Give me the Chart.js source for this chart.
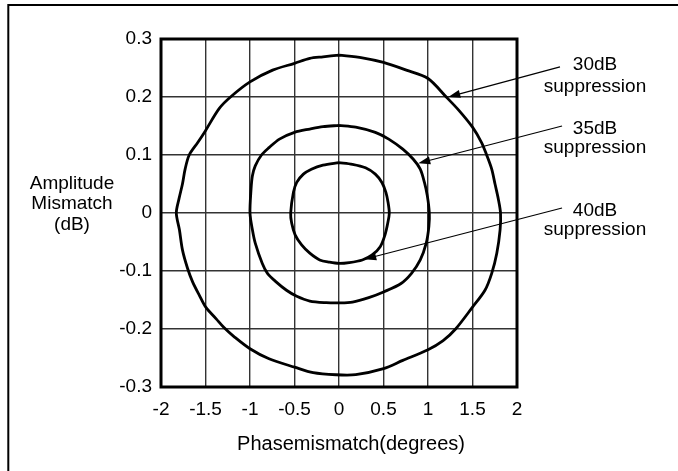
<!DOCTYPE html>
<html>
<head>
<meta charset="utf-8">
<script src="https://cdn.jsdelivr.net/npm/chart.js@4.4.1/dist/chart.umd.min.js"></script>
<style>
  html, body { margin: 0; padding: 0; background: #fff; }
  #wrap { width: 678px; height: 471px; }
</style>
</head>
<body>
<div id="wrap"><canvas id="myChart" width="678" height="471"></canvas></div>
<script>
// phase mismatch (deg) / amplitude mismatch (dB), going round each contour
var phase30 = [0, -0.18, -0.328, -0.5, -0.746, -1, -1.219, -1.347, -1.5, -1.587, -1.683, -1.729, -1.759, -1.798, -1.828,
  -1.793, -1.759, -1.702, -1.645, -1.569, -1.497, -1.38, -1.29, -1.18, -1, -0.786, -0.5, -0.29, -0.034,
  0.188, 0.5, 0.717, 1.0, 1.17, 1.31, 1.5, 1.64, 1.716, 1.773, 1.81, 1.815,
  1.79, 1.753, 1.716, 1.659, 1.602, 1.5, 1.347, 1.205, 1.0, 0.756, 0.5, 0.262, 0];
var ampl30 = [0.2723, 0.2693, 0.2666, 0.258, 0.2463, 0.226, 0.2, 0.18, 0.142, 0.1215, 0.1, 0.0756, 0.05, 0.0243, 0,
  -0.029, -0.0636, -0.0953, -0.1187, -0.1419, -0.1623, -0.1825, -0.198, -0.213, -0.234, -0.2514, -0.2658, -0.2754, -0.2789,
  -0.2787, -0.2684, -0.2541, -0.2357, -0.22, -0.2, -0.1623, -0.1332, -0.104, -0.0693, -0.029, 0,
  0.0243, 0.05, 0.0756, 0.1, 0.1215, 0.148, 0.177, 0.2, 0.2319, 0.2463, 0.2596, 0.2676, 0.2723];

var phase35 = [0, -0.18, -0.328, -0.5, -0.669, -0.786, -0.871, -0.941, -0.973, -0.988, -1.0,
  -0.973, -0.941, -0.863, -0.804, -0.707, -0.59, -0.475, -0.328, -0.144, 0,
  0.151, 0.334, 0.5, 0.697, 0.815, 0.913, 0.98, 1.01, 1.015,
  0.992, 0.96, 0.913, 0.835, 0.717, 0.559, 0.408, 0.188, 0];
var ampl35 = [0.151, 0.149, 0.1448, 0.139, 0.1274, 0.1127, 0.1, 0.0812, 0.0641, 0.0414, 0,
  -0.029, -0.052, -0.0867, -0.104, -0.1187, -0.1332, -0.1436, -0.1518, -0.1546, -0.155,
  -0.1536, -0.146, -0.1361, -0.1215, -0.104, -0.081, -0.052, -0.023, 0,
  0.03, 0.0527, 0.0756, 0.0926, 0.11, 0.1274, 0.139, 0.148, 0.151];

var phase40 = [0, -0.18, -0.31, -0.4, -0.475, -0.512, -0.543,
  -0.532, -0.493, -0.42, -0.328, -0.217, -0.107, 0,
  0.114, 0.262, 0.372, 0.463, 0.517, 0.548, 0.565,
  0.551, 0.527, 0.482, 0.408, 0.298, 0.151, 0];
var ampl40 = [0.0868, 0.0824, 0.0756, 0.067, 0.0527, 0.0356, 0,
  -0.0173, -0.0376, -0.055, -0.0693, -0.081, -0.0849, -0.087,
  -0.0856, -0.081, -0.0723, -0.058, -0.0376, -0.0173, 0,
  0.0185, 0.0356, 0.0527, 0.067, 0.078, 0.084, 0.0868];

var xTicks = [-2, -1.5, -1, -0.5, 0, 0.5, 1, 1.5, 2];
var yTicks = [-0.3, -0.2, -0.1, 0, 0.1, 0.2, 0.3];

// arrows (data coords): tail -> head
var arrowTailX = [2.483, 2.506, 2.506];
var arrowTailY = [0.252, 0.15, 0.0086];
var arrowHeadX = [1.228, 0.891, 0.284];
var arrowHeadY = [0.2, 0.0857, -0.0798];
var noteTop = ["30dB", "35dB", "40dB"];
var noteBottom = ["suppression", "suppression", "suppression"];

var xTitle = "Phasemismatch(degrees)";
var yTitle = ["Amplitude", "Mismatch", "(dB)"];

var fnt = "Liberation Sans, Arial, sans-serif";

function pts(xs, ys) {
  var out = [];
  for (var i = 0; i < xs.length; i++) {
    out.push({ x: xs[i], y: ys[i] });
  }
  return out;
}

var extras = {
  id: 'extras',
  beforeDraw: function(chart) {
    var c = chart.ctx;
    c.save();
    c.fillStyle = '#fff';
    c.fillRect(0, 0, chart.width, chart.height);
    // outer frame (only left + top visible)
    c.strokeStyle = '#000';
    c.lineWidth = 2;
    c.beginPath();
    c.moveTo(8.3, chart.height);
    c.lineTo(8.3, 5);
    c.lineTo(chart.width, 5);
    c.stroke();
    c.restore();
  },
  afterDraw: function(chart) {
    var c = chart.ctx, a = chart.chartArea;
    var xs = chart.scales.x, ys = chart.scales.y;
    c.save();
    c.strokeStyle = '#000';
    c.lineWidth = 3;
    c.strokeRect(a.left, a.top, a.right - a.left, a.bottom - a.top);

    // arrows
    c.lineWidth = 1.2;
    c.fillStyle = '#000';
    for (var i = 0; i < arrowTailX.length; i++) {
      var x0 = xs.getPixelForValue(arrowTailX[i]), y0 = ys.getPixelForValue(arrowTailY[i]);
      var x1 = xs.getPixelForValue(arrowHeadX[i]), y1 = ys.getPixelForValue(arrowHeadY[i]);
      var ang = Math.atan2(y1 - y0, x1 - x0);
      c.beginPath();
      c.moveTo(x0, y0);
      c.lineTo(x1 - 8 * Math.cos(ang), y1 - 8 * Math.sin(ang));
      c.stroke();
      c.beginPath();
      c.moveTo(x1, y1);
      c.lineTo(x1 - 12 * Math.cos(ang) + 4 * Math.sin(ang), y1 - 12 * Math.sin(ang) - 4 * Math.cos(ang));
      c.lineTo(x1 - 12 * Math.cos(ang) - 4 * Math.sin(ang), y1 - 12 * Math.sin(ang) + 4 * Math.cos(ang));
      c.closePath();
      c.fill();
    }

    // annotation text
    var base = [[70, 91.5], [133.5, 153], [216, 235]];
    c.font = "19px " + fnt;
    c.textAlign = 'center';
    c.textBaseline = 'alphabetic';
    for (var j = 0; j < noteTop.length; j++) {
      c.fillText(noteTop[j], 595, base[j][0]);
      c.fillText(noteBottom[j], 595, base[j][1]);
    }

    // axis titles
    c.font = "20px " + fnt;
    c.fillText(xTitle, 351, 449.5);
    c.font = "19px " + fnt;
    var yb = [189, 208.5, 229.5];
    for (var k = 0; k < yTitle.length; k++) {
      c.fillText(yTitle[k], 72, yb[k]);
    }
    c.restore();
  }
};

var lineStyle = {
  showLine: true,
  borderColor: '#000',
  borderWidth: 2.8,
  pointRadius: 0,
  tension: 0.3,
  fill: false
};

var myChart = new Chart(document.querySelector('#myChart').getContext('2d'), {
  type: 'scatter',
  data: {
    datasets: [
      Object.assign({ label: '30dB suppression', data: pts(phase30, ampl30) }, lineStyle),
      Object.assign({ label: '35dB suppression', data: pts(phase35, ampl35) }, lineStyle),
      Object.assign({ label: '40dB suppression', data: pts(phase40, ampl40) }, lineStyle)
    ]
  },
  options: {
    responsive: false,
    devicePixelRatio: 1,
    animation: false,
    layout: { padding: { top: 39, right: 161, left: 0, bottom: 0 } },
    plugins: { legend: { display: false }, tooltip: { enabled: false } },
    scales: {
      x: {
        type: 'linear',
        min: -2,
        max: 2,
        afterBuildTicks: function(s) { s.ticks = xTicks.map(function(v) { return { value: v }; }); },
        afterFit: function(s) { s.height = 84; },
        grid: { color: '#333', lineWidth: 1.4, drawTicks: false },
        border: { display: false },
        ticks: {
          padding: 11,
          color: '#000',
          font: { family: fnt, size: 19 },
          callback: function(v) { return String(Number(v.toFixed(1))); }
        }
      },
      y: {
        type: 'linear',
        min: -0.3,
        max: 0.3,
        afterBuildTicks: function(s) { s.ticks = yTicks.map(function(v) { return { value: v }; }); },
        afterFit: function(s) { s.width = 161; },
        grid: { color: '#333', lineWidth: 1.4, drawTicks: false },
        border: { display: false },
        ticks: {
          padding: 9,
          color: '#000',
          font: { family: fnt, size: 19 },
          callback: function(v) { return String(Number(v.toFixed(1))); }
        }
      }
    }
  },
  plugins: [extras]
});
</script>
</body>
</html>
